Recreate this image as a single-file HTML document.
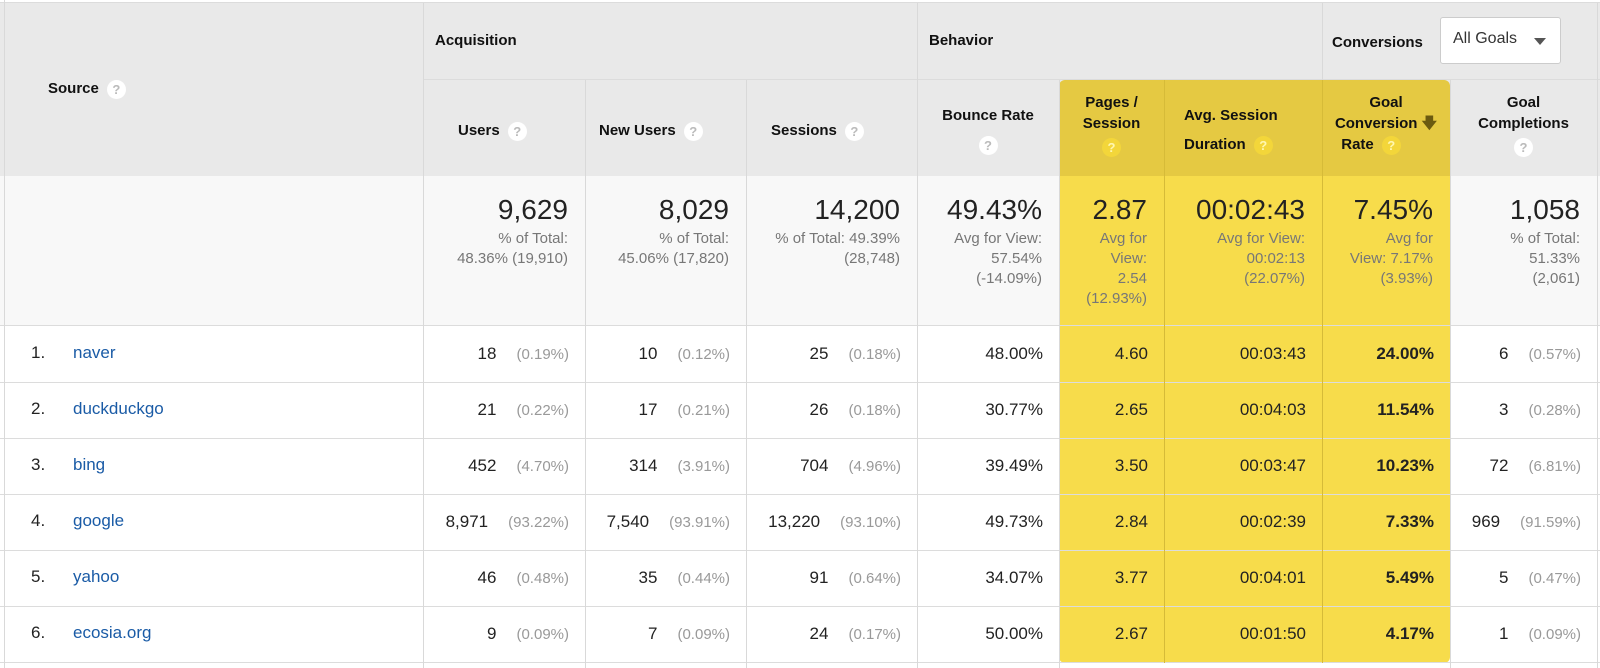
<!DOCTYPE html>
<html><head><meta charset="utf-8"><style>
body{margin:0;width:1600px;height:668px;overflow:hidden;background:#fff;font-family:"Liberation Sans",Arial,sans-serif;position:relative}
.a{position:absolute;box-sizing:border-box}
.hd{font-weight:bold;font-size:15px;color:#111;line-height:21px}
.q{display:inline-block;width:19px;height:19px;border-radius:50%;background:#fff;color:#bbb;font-size:13px;line-height:19px;text-align:center;font-weight:bold;vertical-align:middle;margin-left:8px}
.yq{background:#f3d63a;color:#fff7b0}
.big{font-size:28px;color:#222;text-align:right;line-height:34px}
.sub{font-size:15px;color:#777;text-align:right;line-height:20px}
.cell{display:flex;justify-content:flex-end;align-items:center;gap:20px;font-size:17px;color:#222;padding-right:16px}
.pct{color:#999;font-size:15px}
.vl{position:absolute;width:1px;background:#d9d9d9}
.hl{position:absolute;height:1px;background:#dcdcdc}
</style></head><body>
<!-- backgrounds -->
<div class="a" style="left:0;top:3px;width:1600px;height:173px;background:#e9e9e9"></div>
<div class="a" style="left:0;top:176px;width:1600px;height:150px;background:#f8f8f8"></div>
<div class="a" style="left:1059px;top:80px;width:391px;height:96px;background:#e5c942;border-radius:6px 6px 0 0"></div>
<div class="a" style="left:1059px;top:176px;width:391px;height:487px;background:#f7dc4b;border-radius:0 0 6px 6px"></div>
<div id="lines"></div>
<!-- top group headers -->
<div class="a hd" style="left:48px;top:78px">Source<span class="q">?</span></div>
<div class="a hd" style="left:435px;top:30px">Acquisition</div>
<div class="a hd" style="left:929px;top:30px">Behavior</div>
<div class="a hd" style="left:1332px;top:32px">Conversions</div>
<div class="a" style="left:1440px;top:17px;width:121px;height:47px;background:#fff;border:1px solid #ccc;border-radius:3px;font-size:16px;color:#333;padding:12px 0 0 12px">All Goals<span style="position:absolute;right:14px;top:20px;border-left:6px solid transparent;border-right:6px solid transparent;border-top:7px solid #555"></span></div>
<!-- sub headers -->
<div class="a hd" style="left:458px;top:120px">Users<span class="q">?</span></div>
<div class="a hd" style="left:599px;top:120px">New Users<span class="q">?</span></div>
<div class="a hd" style="left:771px;top:120px">Sessions<span class="q">?</span></div>
<div class="a hd" style="left:917px;top:101px;width:142px;text-align:center;line-height:29px">Bounce Rate<br><span class="q" style="margin:0">?</span></div>
<div class="a hd" style="left:1059px;top:92px;width:105px;text-align:center">Pages /<br>Session<br><span class="q yq" style="margin:4px 0 0">?</span></div>
<div class="a hd" style="left:1184px;top:101px;line-height:29px">Avg. Session<br>Duration<span class="q yq">?</span></div>
<div class="a hd" style="left:1322px;top:92px;width:128px;text-align:center">Goal<br>Conversion <span style="color:#6b5a10">&#129095;</span><br><span style="margin-left:-30px">Rate</span><span class="q yq">?</span></div>
<div class="a hd" style="left:1450px;top:92px;width:147px;text-align:center">Goal<br>Completions<br><span class="q" style="margin:4px 0 0">?</span></div>
<div id="totals"></div>
<div id="rows"></div>
<script>
const sources=["naver","duckduckgo","bing","google","yahoo","ecosia.org"];
const users=["18","21","452","8,971","46","9"];
const usersPct=["(0.19%)","(0.22%)","(4.70%)","(93.22%)","(0.48%)","(0.09%)"];
const newUsers=["10","17","314","7,540","35","7"];
const newUsersPct=["(0.12%)","(0.21%)","(3.91%)","(93.91%)","(0.44%)","(0.09%)"];
const sessions=["25","26","704","13,220","91","24"];
const sessionsPct=["(0.18%)","(0.18%)","(4.96%)","(93.10%)","(0.64%)","(0.17%)"];
const bounce=["48.00%","30.77%","39.49%","49.73%","34.07%","50.00%"];
const pages=["4.60","2.65","3.50","2.84","3.77","2.67"];
const duration=["00:03:43","00:04:03","00:03:47","00:02:39","00:04:01","00:01:50"];
const gcr=["24.00%","11.54%","10.23%","7.33%","5.49%","4.17%"];
const completions=["6","3","72","969","5","1"];
const completionsPct=["(0.57%)","(0.28%)","(6.81%)","(91.59%)","(0.47%)","(0.09%)"];
const totalsBig=["9,629","8,029","14,200","49.43%","2.87","00:02:43","7.45%","1,058"];
const totalsSub=["% of Total:<br>48.36% (19,910)","% of Total:<br>45.06% (17,820)","% of Total: 49.39%<br>(28,748)","Avg for View:<br>57.54%<br>(-14.09%)","Avg for<br>View:<br>2.54<br>(12.93%)","Avg for View:<br>00:02:13<br>(22.07%)","Avg for<br>View: 7.17%<br>(3.93%)","% of Total:<br>51.33%<br>(2,061)"];
const colX=[4,423,585,746,917,1059,1164,1322,1450,1597];
const rowTop=326,rowH=56;

const L=document.getElementById('lines');
function vline(x,t,h,c){const d=document.createElement('div');d.className='vl';d.style.cssText=`left:${x}px;top:${t}px;height:${h}px`+(c?`;background:${c}`:'');


L.appendChild(d);}
function hline(x,w,t,c){const d=document.createElement('div');d.className='hl';d.style.cssText=`left:${x}px;top:${t}px;width:${w}px`+(c?`;background:${c}`:'');


L.appendChild(d);}
hline(0,1600,2);
hline(423,1177,79);
hline(0,1600,325);
for(let i=1;i<=6;i++)hline(0,1600,rowTop+i*rowH);
vline(4,0,668);vline(423,3,665);vline(917,3,665);vline(1322,3,77);vline(1597,3,665);
[585,746,1059,1450].forEach(x=>vline(x,80,588));
vline(1164,80,583,'#d6bb38');vline(1322,80,583,'#d6bb38');

const T=document.getElementById('totals');
for(let c=0;c<8;c++){
 const l=colX[c+1],r=colX[c+2];
 const b=document.createElement('div');b.className='a big';b.style.cssText=`left:${l}px;width:${r-l-17}px;top:193px`;b.textContent=totalsBig[c];
 
 
 T.appendChild(b);
 const s=document.createElement('div');s.className='a sub';s.style.cssText=`left:${l}px;width:${r-l-17}px;top:229px`;s.innerHTML=totalsSub[c];
 
 
 T.appendChild(s);
}
const R=document.getElementById('rows');
const cols=[[users,usersPct],[newUsers,newUsersPct],[sessions,sessionsPct],[bounce],[pages],[duration],[gcr],[completions,completionsPct]];
for(let i=0;i<sources.length;i++){
 const top=rowTop+i*rowH;
 const n=document.createElement('div');n.className='a';n.style.cssText=`left:31px;top:${top+17}px;font-size:17px;color:#222`;n.textContent=(i+1)+'.';
 
 
 R.appendChild(n);
 const s=document.createElement('div');s.className='a';s.style.cssText=`left:73px;top:${top+17}px;font-size:17px;color:#1a5ba6;cursor:pointer`;s.textContent=sources[i];
 
 
 R.appendChild(s);
 cols.forEach((arr,c)=>{
  const l=colX[c+1],r=colX[c+2];
  const d=document.createElement('div');d.className='a cell';d.style.cssText=`left:${l}px;width:${r-l}px;top:${top}px;height:${rowH}px`+(c==6?';font-weight:bold':'');
  
  
  let h='<span>'+arr[0][i]+'</span>';
  if(arr[1])h+='<span class="pct">'+arr[1][i]+'</span>';
  d.innerHTML=h;R.appendChild(d);
 });
}
</script>
</body></html>
